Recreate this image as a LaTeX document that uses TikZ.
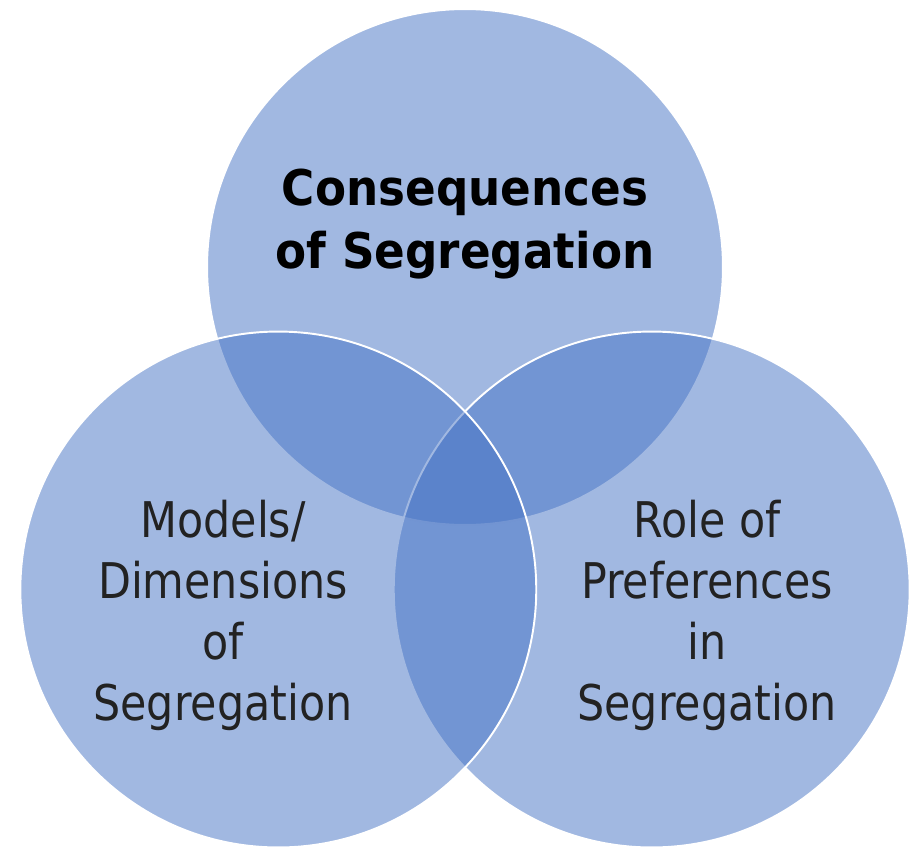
\documentclass[tikz,border=0pt]{standalone}
\usepackage{fontspec}
\setmainfont{DejaVu Sans}[FakeStretch=0.87,BoldFeatures={FakeStretch=0.92}]
\definecolor{setblue}{HTML}{4472C4}
\definecolor{labelgray}{HTML}{222222}
\begin{document}
\begin{tikzpicture}[x=0.02cm,y=-0.02cm,
  venn/.style={circle,draw=white,line width=1.1pt,fill=setblue,fill opacity=0.5,minimum size=10.32cm,inner sep=0pt},
  settext/.style={align=center,text=labelgray,font=\fontsize{28}{34.6}\selectfont}]
\useasboundingbox (0,0) rectangle (915,848);
% the three sets, top one first so the others sit over its rim
\node[venn] (cons) at (465,267) {};
\node[venn] (pref) at (651.7,589.5) {};
\node[venn] (dims) at (278.3,589.5) {};
% set names
\node[settext,text=black,font={\bfseries\fontsize{28}{35.5}\selectfont}] (consName) at (465,224) {Consequences\\of Segregation};
\node[settext] (dimsName) at (223,615.5) {Models/\\Dimensions\\of\\Segregation};
\node[settext] (prefName) at (707,615.5) {Role of\\Preferences\\in\\Segregation};
\end{tikzpicture}
\end{document}
